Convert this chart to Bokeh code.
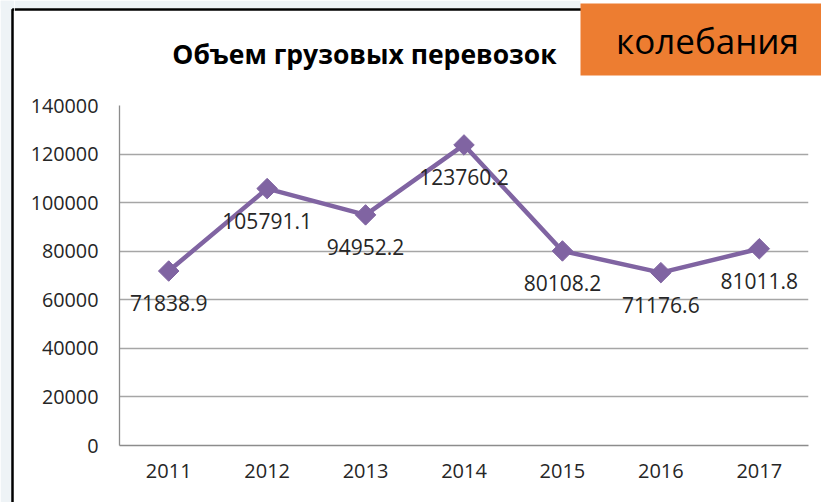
from bokeh.plotting import figure
from bokeh.layouts import column, row
from bokeh.models import ColumnDataSource, FactorRange, Range1d, FixedTicker
from bokeh.core.properties import value
from bokeh.embed import file_html
from bokeh.resources import INLINE
import math

years = ["2011", "2012", "2013", "2014", "2015", "2016", "2017"]
volumes = [71838.9, 105791.1, 94952.2, 123760.2, 80108.2, 71176.6, 81011.8]
labels = ["71838.9", "105791.1", "94952.2", "123760.2", "80108.2", "71176.6", "81011.8"]
y_ticks = [0, 20000, 40000, 60000, 80000, 100000, 120000, 140000]
title_text = "Объем грузовых перевозок"
badge_text = "колебания"

FONT = "Open Sans"
PURPLE = "#8064A2"
OUTER = "#eef3f6"
TOTAL_W, TOTAL_H, HEAD_H, STRIP_W = 821, 502, 90, 14
MAIN_W, MAIN_H = TOTAL_W - STRIP_W, TOTAL_H - HEAD_H


def bare(w, h):
    f = figure(width=w, height=h, output_backend="svg", toolbar_location=None, title=None,
               x_range=Range1d(0, w), y_range=Range1d(h, 0),
               min_border=0, min_border_left=0, min_border_right=0,
               min_border_top=0, min_border_bottom=0,
               x_axis_location=None, y_axis_location=None)
    f.grid.visible = False
    f.outline_line_color = None
    f.border_fill_color = "white"
    f.background_fill_color = "white"
    return f


# ---- left strip (full height) with frame border ----
strip = bare(STRIP_W, TOTAL_H)
strip.quad(left=[0, 0], right=[12, STRIP_W], top=[0, 0], bottom=[TOTAL_H, 8],
           fill_color=OUTER, line_color=None)
strip.line(x=[12, 12, STRIP_W], y=[TOTAL_H, 9, 9], line_color="black", line_width=2.5)

# ---- header: title, badge, top frame border (x offset by STRIP_W) ----
head = bare(MAIN_W, HEAD_H)
head.x_range = Range1d(STRIP_W, TOTAL_W)
head.quad(left=[STRIP_W], right=[580], top=[0], bottom=[8], fill_color=OUTER, line_color=None)
head.line(x=[STRIP_W, TOTAL_W], y=[9, 9], line_color="black", line_width=2.5)
head.quad(left=[580], right=[TOTAL_W], top=[3], bottom=[75], fill_color="#ED7D31", line_color=None)
head.text(x=[364], y=[53], text=[title_text], text_font=value(FONT), text_font_style="bold",
          text_font_size="26.5px", text_align="center", text_baseline="middle", text_color="black")
head.text(x=[707], y=[40], text=[badge_text], text_font=value(FONT),
          text_font_size="35px", text_align="center", text_baseline="middle", text_color="black")

# ---- main chart ----
src = ColumnDataSource(dict(x=years, y=volumes, lab=labels))
p = figure(width=MAIN_W, height=MAIN_H, output_backend="svg", toolbar_location=None,
           title=None, x_range=FactorRange(*years), y_range=Range1d(0, 140000),
           min_border_left=105, min_border_right=13, min_border_top=15, min_border_bottom=57)
p.outline_line_color = None
p.background_fill_color = "white"
p.border_fill_color = "white"
p.xgrid.grid_line_color = None
p.ygrid.grid_line_color = "#a6a6a6"
p.ygrid.grid_line_width = 1.3
p.yaxis.ticker = FixedTicker(ticks=y_ticks)
for ax in (p.xaxis[0], p.yaxis[0]):
    ax.axis_line_color = "#8c8c8c"
    ax.axis_line_width = 1.3
    ax.major_tick_line_color = None
    ax.minor_tick_line_color = None
    ax.major_tick_out = 0
    ax.major_tick_in = 0
    ax.minor_tick_out = 0
    ax.major_label_text_font = FONT
    ax.major_label_text_color = "#262626"
p.yaxis.major_label_text_font_size = "19.8px"
p.xaxis.major_label_text_font_size = "20px"
p.yaxis.major_label_standoff = 21
p.xaxis.major_label_standoff = 18
p.yaxis.formatter.use_scientific = False

p.line("x", "y", source=src, line_color=PURPLE, line_width=4.5)
p.scatter("x", "y", source=src, marker="square", angle=math.pi / 4, size=14.5,
          fill_color=PURPLE, line_color=PURPLE)
p.text("x", "y", text="lab", source=src, text_align="center", text_baseline="middle",
       y_offset=32, text_font=value(FONT), text_font_size="21px", text_color="#262626")

layout = row(strip, column(head, row(p, spacing=0), spacing=0), spacing=0)
open("out.html", "w").write(file_html(layout, INLINE))
